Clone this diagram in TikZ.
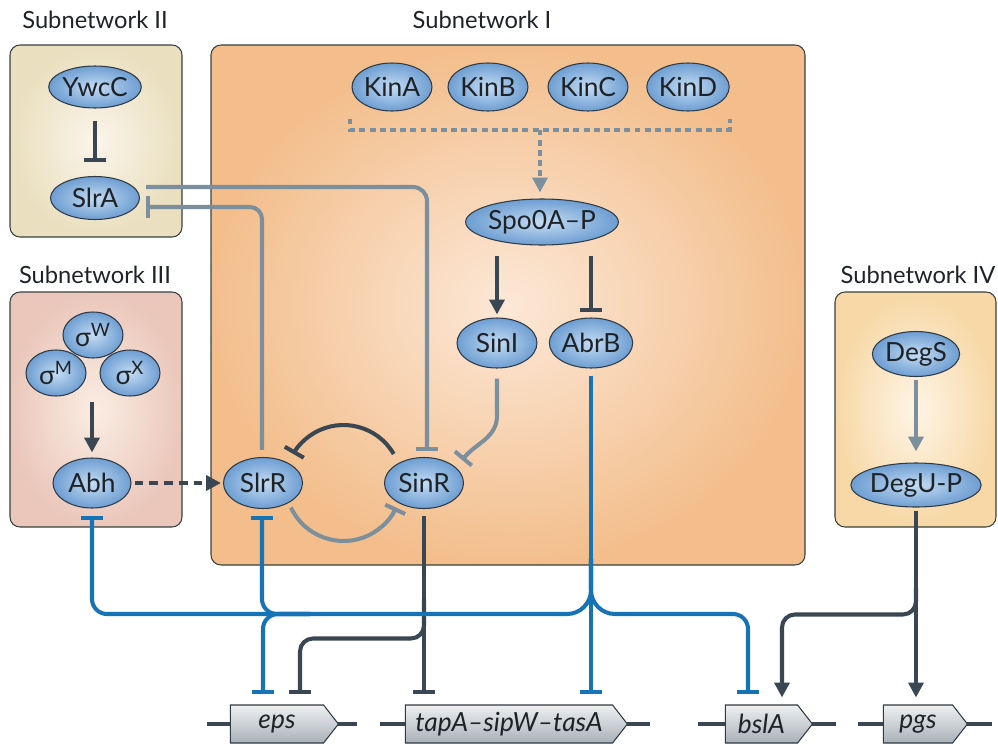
\documentclass[tikz,border=0pt]{standalone}
\usepackage{fontspec}
\setmainfont{Lato}
\usetikzlibrary{arrows.meta,shapes.geometric,shapes.symbols,calc}

\definecolor{cdark}{HTML}{3A4752}
\definecolor{cgray}{HTML}{7B909C}
\definecolor{cblue}{HTML}{1673B6}
\definecolor{ellin}{HTML}{C4DCF3}
\definecolor{ellout}{HTML}{6E9ED2}
\definecolor{edgec}{HTML}{2E3A44}
\definecolor{txt}{HTML}{1E2328}
\definecolor{pOneIn}{HTML}{FCE8D7}
\definecolor{pOneOut}{HTML}{F3BE8C}
\definecolor{pTwoIn}{HTML}{FBF5EA}
\definecolor{pTwoOut}{HTML}{EADFBF}
\definecolor{pThreeIn}{HTML}{FAEDE3}
\definecolor{pThreeOut}{HTML}{EBC7BB}
\definecolor{pFourIn}{HTML}{FEF5E6}
\definecolor{pFourOut}{HTML}{F7D8A6}
\definecolor{geneTop}{HTML}{EEF0F2}
\definecolor{geneBot}{HTML}{A9B1B7}

\begin{document}
\begin{tikzpicture}[x=0.02cm,y=-0.02cm,
  font=\fontsize{15}{17}\selectfont,
  panel/.style={draw=edgec!90!olive, line width=0.6pt, rounded corners=0.2cm},
  lab/.style={text=txt, font=\fontsize{13.5}{15}\selectfont},
  prot/.style={ellipse, draw=edgec, line width=0.6pt, inner sep=0pt,
    inner color=ellin, outer color=ellout, text=txt,
    minimum width=1.6cm, minimum height=0.96cm},
  gene/.style={signal, signal to=east, signal pointer angle=104,
    draw=edgec, line width=0.6pt, inner sep=0pt, minimum height=0.76cm,
    top color=geneTop, bottom color=geneBot, text=txt},
  dk/.style={draw=cdark, line width=2.3pt},
  gy/.style={draw=cgray, line width=2.3pt},
  bl/.style={draw=cblue, line width=2.3pt},
  bb/.style={draw=cdark, line width=2.3pt},
  inh/.style={-{Bar[width=12.5pt]}},
  act/.style={-{Triangle[width=8.5pt,length=8.5pt]}},
  dots/.style={dash pattern=on 3.4pt off 2.4pt},
  dashes/.style={dash pattern=on 5pt off 3.4pt}
]
\useasboundingbox (0,0) rectangle (998,744);

% ---- panels ----
\path[panel, inner color=pOneIn, outer color=pOneOut] (211,45) rectangle (805,565);
\path[panel, inner color=pTwoIn, outer color=pTwoOut] (10,45) rectangle (182,237);
\path[panel, inner color=pThreeIn, outer color=pThreeOut] (10,292) rectangle (182,527);
\path[panel, inner color=pFourIn, outer color=pFourOut] (835,292) rectangle (996,527);

\node[lab] (labII) at (95,20) {Subnetwork II};
\node[lab] (labI) at (482,20) {Subnetwork I};
\node[lab] (labIII) at (95,275) {Subnetwork III};
\node[lab] (labIV) at (918,275) {Subnetwork IV};

% ---- proteins ----
\node[prot, minimum width=1.78cm, minimum height=0.84cm] (ywcc) at (95,87) {YwcC};
\node[prot, minimum width=1.78cm, minimum height=0.86cm] (slra) at (95,198) {SlrA};

\node[prot] (kina) at (392,87) {KinA};
\node[prot] (kinb) at (488,87) {KinB};
\node[prot] (kinc) at (588,87) {KinC};
\node[prot] (kind) at (688,87) {KinD};
\node[prot, minimum width=3cm, minimum height=0.92cm] (spo) at (542,222) {Spo0A–P};
\node[prot, minimum height=1cm] (sini) at (497,343) {SinI};
\node[prot, minimum height=1cm] (abrb) at (591,343) {AbrB};
\node[prot, minimum width=1.58cm, minimum height=1.02cm] (slrr) at (263,483) {SlrR};
\node[prot, minimum width=1.58cm, minimum height=1.02cm] (sinr) at (424,483) {SinR};

\node[prot, minimum width=1.2cm, minimum height=0.92cm] (sw) at (93,335) {σ\textsuperscript{W}};
\node[prot, minimum width=1.2cm, minimum height=0.92cm] (sm) at (56,373) {σ\textsuperscript{M}};
\node[prot, minimum width=1.2cm, minimum height=0.92cm] (sx) at (130,373) {σ\textsuperscript{X}};
\node[prot, minimum width=1.56cm, minimum height=1cm] (abh) at (92,483) {Abh};

\node[prot, minimum width=1.5cm, minimum height=0.9cm] (degs) at (916,354) {DegS};
\node[prot, minimum width=1.7cm, minimum height=0.88cm] (degu) at (916,485) {DegU-P};

% ---- genes ----
\coordinate (e0) at (207,724);  \coordinate (e1) at (357,724);
\coordinate (t0) at (380,724);  \coordinate (t1) at (650,724);
\coordinate (b0) at (698,724);  \coordinate (b1) at (836,724);
\coordinate (p0) at (858,724);  \coordinate (p1) at (992,724);
\draw[bb] (e0) -- (e1);
\draw[bb] (t0) -- (t1);
\draw[bb] (b0) -- (b1);
\draw[bb] (p0) -- (p1);
\node[gene, minimum width=2.16cm] (eps) at (277,724) {\itshape eps};
\node[gene, minimum width=4.44cm] (tapa) at (509,724) {\itshape tapA–sipW–tasA};
\node[gene, minimum width=1.74cm] (bsla) at (761.5,724) {\itshape bslA};
\node[gene, minimum width=1.68cm] (pgs) at (918,724) {\itshape pgs};

% ---- subnetwork II ----
\draw[dk, inh, shorten <=0.24cm, shorten >=0.28cm] (ywcc.south) -- (slra.north);
\draw[gy, inh, rounded corners=0.28cm] ($(slra.east)+(6,-11)$) -| ($(sinr.north)+(3,-6)$);
\draw[gy, inh, rounded corners=0.24cm] ($(slrr.north)+(-1,-7)$) |- ($(slra.east)+(6,9)$);

% ---- kinases to Spo0A-P ----
\coordinate (kl) at ($(kina.south)+(-42,7)$);
\coordinate (kr) at ($(kind.south)+(42,7)$);
\draw[gy, dots] (kl) -- ($(kl)+(0,11)$) -- ($(kr)+(0,11)$) -- (kr);
\draw[gy, dots, act] ($(spo.north |- kl)+(-2,11)$) -- ($(spo.north)+(-2,-6)$);

% ---- Spo0A-P targets ----
\draw[dk, act, shorten <=0.2cm, shorten >=0.06cm] (sini |- spo.south) -- (sini.north);
\draw[dk, inh, shorten <=0.2cm, shorten >=0.1cm] (abrb |- spo.south) -- (abrb.north);

% ---- SinI / SinR / SlrR ----
\draw[gy, inh] ($(sini.south)+(0,10)$) -- ++(0,37) to[out=-90, in=50] ($(sinr.center)+(38,-23)$);
\coordinate (loopc) at ($(slrr)!0.5!(sinr)$);
\draw[dk, inh] ($(loopc)+(30:1.16cm)$) arc[start angle=30, end angle=150, radius=1.16cm];
\draw[gy, inh] ($(loopc)+(205:1.16cm)$) arc[start angle=205, end angle=335, radius=1.16cm];

% ---- subnetwork III ----
\draw[dk, act] ($(abh.north)+(0,-55)$) -- ($(abh.north)+(0,-5)$);
\draw[dk, dashes, act, shorten <=0.06cm, shorten >=0.04cm] (abh.east) -- (slrr.west);

% ---- subnetwork IV ----
\draw[gy, act, shorten <=0.06cm, shorten >=0.22cm] (degs.south) -- (degu.north);
\draw[dk, act, shorten <=0.06cm] (degu.south) -- ($(degu.south |- pgs.north)+(0,-7)$);
\draw[dk, act, rounded corners=0.26cm] ($(degu.south)+(0,80)$) |- ($(bsla.north)+(20.5,-90)$) -- ($(bsla.north)+(20.5,-7)$);

% ---- SinR to target genes ----
\draw[dk, inh, shorten <=0.14cm] (sinr.south) -- ($(sinr.south |- tapa.north)+(0,-10)$);
\draw[dk, inh, rounded corners=0.26cm] ($(sinr.south)+(0,90)$) |- ($(eps.north)+(23,-66)$) -- ($(eps.north)+(23,-10)$);

% ---- AbrB network ----
\coordinate (busL) at (400,614);
\coordinate (busR) at (680,614);
\coordinate (jslr) at (310,614);
\draw[bl, inh, shorten <=0.14cm] (abrb.south) -- ($(abrb.south |- tapa.north)+(0,-10)$);
\draw[bl, rounded corners=0.48cm] ($(abrb.south)+(0,190)$) |- (busL);
\draw[bl, rounded corners=0.48cm] ($(abrb.south)+(0,190)$) |- (busR);
\draw[bl, inh, rounded corners=0.3cm] (busL) -| ($(abh.south)+(0,7)$);
\draw[bl, inh, rounded corners=0.3cm] (busR) -| ($(bsla.north)+(-13.5,-10)$);
\draw[bl, inh, rounded corners=0.3cm] (jslr) -| ($(slrr.south)+(-1,7)$);
\draw[bl, inh, rounded corners=0.3cm] (jslr) -| ($(eps.north)+(-14,-10)$);
\end{tikzpicture}
\end{document}
